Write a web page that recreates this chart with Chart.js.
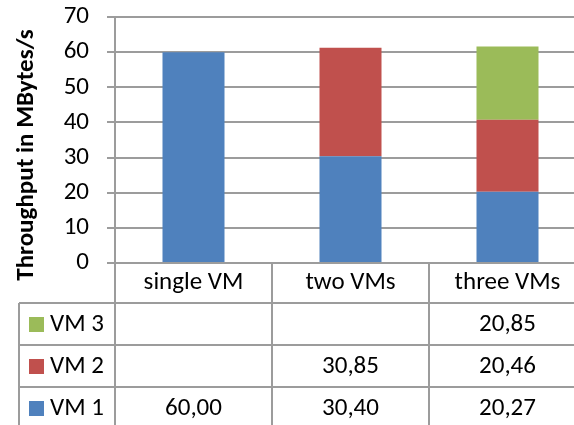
<!DOCTYPE html>
<html>
<head>
<meta charset="utf-8">
<script src="https://cdn.jsdelivr.net/npm/chart.js@4"></script>
<style>
  html, body { margin: 0; padding: 0; background: #fff; overflow: hidden; }
  #wrap { width: 588px; height: 425px; }
</style>
</head>
<body>
<div id="wrap"><canvas id="c" width="588" height="425"></canvas></div>
<script>
// Throughput per VM, stacked per scenario
const categories = ['single VM', 'two VMs', 'three VMs'];
const vm1 = [60.00, 30.40, 20.27];
const vm2 = [null, 30.85, 20.46];
const vm3 = [null, null, 20.85];
const seriesNames = ['VM 1', 'VM 2', 'VM 3'];
const seriesColors = ['#4F81BD', '#C0504D', '#9BBB59'];
const yTicks = [0, 10, 20, 30, 40, 50, 60, 70];
const yTitle = 'Throughput in MBytes/s';

const FONT = "Carlito, Lato, 'Open Sans', sans-serif";
const LINE = '#9c9c9c';
const TXT = 25;

const fmt = v => (v == null ? '' : v.toFixed(2).replace('.', ','));

// Data table under the plot plus the rotated axis title
const tablePlugin = {
  id: 'dataTable',
  afterDraw(chart) {
    const ctx = chart.ctx;
    const x = chart.scales.x;
    const area = chart.chartArea;
    const c0 = x.getPixelForValue(0);
    const half = (x.getPixelForValue(1) - c0) / 2;
    const top = area.bottom;
    const headerH = 40, rowH = 42;
    const legendLeft = 19;
    const bottom = chart.height + 5;
    const right = x.getPixelForValue(categories.length - 1) + half;
    const rows = [
      { name: seriesNames[2], color: seriesColors[2], vals: vm3 },
      { name: seriesNames[1], color: seriesColors[1], vals: vm2 },
      { name: seriesNames[0], color: seriesColors[0], vals: vm1 }
    ];

    ctx.save();
    ctx.strokeStyle = LINE;
    ctx.lineWidth = 2;
    ctx.beginPath();
    // column dividers
    for (let i = 0; i <= categories.length; i++) {
      const bx = Math.round(c0 - half + i * 2 * half);
      ctx.moveTo(bx, top);
      ctx.lineTo(bx, bottom);
    }
    // row dividers
    for (let r = 0; r <= rows.length; r++) {
      const ry = Math.round(top + headerH + r * rowH);
      ctx.moveTo(legendLeft, ry);
      ctx.lineTo(right, ry);
    }
    // legend column left edge
    ctx.moveTo(legendLeft, top + headerH);
    ctx.lineTo(legendLeft, bottom);
    ctx.stroke();

    ctx.font = TXT + 'px ' + FONT;
    ctx.fillStyle = '#000';
    ctx.textBaseline = 'middle';
    rows.forEach((row, r) => {
      const cy = top + headerH + r * rowH + rowH / 2;
      // legend key
      ctx.fillStyle = row.color;
      ctx.fillRect(29, Math.round(cy - 7), 15, 15);
      ctx.fillStyle = '#000';
      ctx.textAlign = 'left';
      ctx.fillText(row.name, 50, cy + 1);
      ctx.textAlign = 'center';
      row.vals.forEach((v, i) => {
        ctx.fillText(fmt(v), x.getPixelForValue(i), cy + 1);
      });
    });

    // axis title
    ctx.translate(33, (area.top + area.bottom) / 2 + 15);
    ctx.rotate(-Math.PI / 2);
    ctx.font = 'bold 25px ' + FONT;
    ctx.textAlign = 'center';
    ctx.textBaseline = 'alphabetic';
    ctx.fillText(yTitle, 0, 0);
    ctx.restore();
  }
};

const ds = [vm1, vm2, vm3].map((d, i) => ({
  label: seriesNames[i],
  data: d,
  backgroundColor: seriesColors[i],
  borderWidth: 0,
  categoryPercentage: 1,
  barPercentage: 0.395
}));

new Chart(document.getElementById('c'), {
  type: 'bar',
  data: { labels: categories, datasets: ds },
  options: {
    responsive: false,
    devicePixelRatio: 1,
    animation: false,
    layout: { padding: { top: 17, right: 2, left: 0, bottom: 0 } },
    plugins: { legend: { display: false }, tooltip: { enabled: false } },
    scales: {
      x: {
        stacked: true,
        grid: { display: false, drawTicks: false },
        border: { display: true, color: LINE, width: 2 },
        ticks: { font: { size: TXT, family: FONT }, color: '#000', padding: 5, maxRotation: 0, autoSkip: false },
        afterFit(s) { s.height = 162; s.paddingLeft = 0; s.paddingRight = 0; }
      },
      y: {
        stacked: true,
        min: 0,
        max: 70,
        afterBuildTicks(s) { s.ticks = yTicks.map(v => ({ value: v })); },
        grid: { color: LINE, lineWidth: 2, tickLength: 8, drawTicks: true },
        border: { display: true, color: LINE, width: 2 },
        ticks: { font: { size: TXT, family: FONT }, color: '#000', padding: 18, autoSkip: false },
        afterFit(s) { s.width = 115; s.paddingTop = 0; s.paddingBottom = 0; }
      }
    }
  },
  plugins: [tablePlugin]
});
</script>
</body>
</html>
